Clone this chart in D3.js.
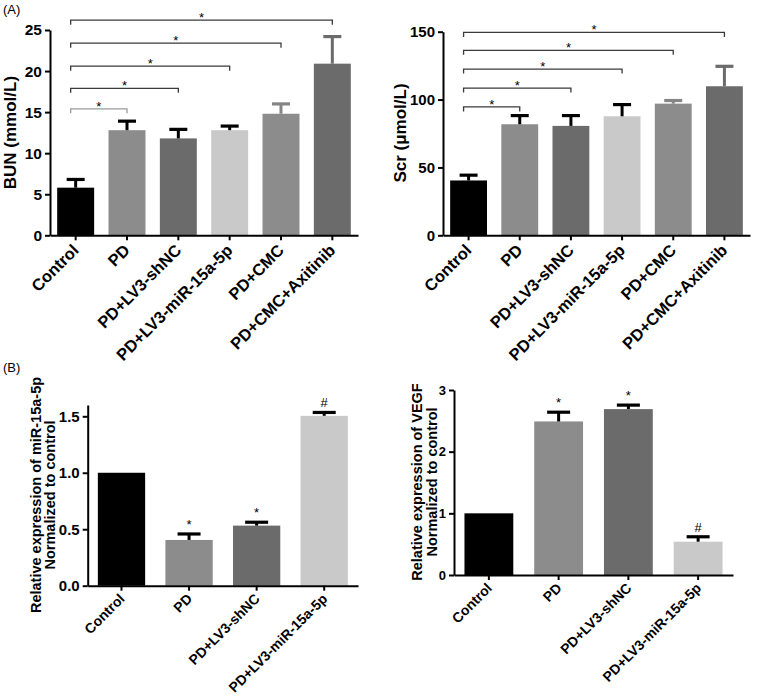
<!DOCTYPE html>
<html>
<head>
<meta charset="utf-8">
<script src="https://cdn.jsdelivr.net/npm/d3@7"></script>
<style>
  html, body { margin: 0; padding: 0; background: #ffffff; }
  svg { display: block; }
  text { font-family: "Liberation Sans", Arial, sans-serif; fill: #000; }
</style>
</head>
<body>
<svg id="chart" width="760" height="696"></svg>
<script>
// ---------------- DATA ----------------
const categoriesA = ["Control", "PD", "PD+LV3-shNC", "PD+LV3-miR-15a-5p", "PD+CMC", "PD+CMC+Axitinib"];
const bunMeans = [5.8, 12.8, 11.8, 12.8, 14.8, 20.9];
const bunErrs  = [1.0, 1.1, 1.1, 0.5, 1.2, 3.3];
const bunTicks = [0, 5, 10, 15, 20, 25];
const bunBracketLevels = [15.4, 17.9, 20.6, 23.4, 26.2];

const scrMeans = [40.4, 81.8, 80.6, 87.7, 97.0, 109.8];
const scrErrs  = [3.9, 6.4, 7.6, 8.6, 2.3, 14.7];
const scrTicks = [0, 50, 100, 150];
const scrBracketLevels = [94.6, 108.5, 122.5, 136.3, 149.5];

const bracketTargets = [1, 2, 3, 4, 5];   // each compared with Control (index 0)
const bracketLabels  = ["*", "*", "*", "*", "*"];

const categoriesB = ["Control", "PD", "PD+LV3-shNC", "PD+LV3-miR-15a-5p"];
const mirMeans = [1.0, 0.405, 0.532, 1.504];
const mirErrs  = [0, 0.053, 0.030, 0.030];
const mirTicks = [0, 0.5, 1.0, 1.5];
const mirMarks = ["", "*", "*", "#"];

const vegfMeans = [1.0, 2.49, 2.69, 0.54];
const vegfErrs  = [0, 0.15, 0.065, 0.08];
const vegfTicks = [0, 1, 2, 3];
const vegfMarks = ["", "*", "*", "#"];

// ---------------- STYLE ----------------
const barColorsA = ["#000000", "#8c8c8c", "#6b6b6b", "#c9c9c9", "#8c8c8c", "#6b6b6b"];
const errColorsA = ["#000000", "#000000", "#000000", "#000000", "#858585", "#6b6b6b"];
const barColorsB = ["#000000", "#8c8c8c", "#6b6b6b", "#c9c9c9"];
const errColorsB = ["#000000", "#000000", "#000000", "#000000"];
const FONT = '"Liberation Sans", Arial, sans-serif';

const svg = d3.select("#chart");

function drawPanel(cfg) {
  const g = svg.append("g");
  const x = d3.scaleBand().domain(cfg.cats).range([cfg.x0, cfg.x1])
    .paddingInner(cfg.pIn).paddingOuter(cfg.pOut);
  const y = d3.scaleLinear().domain([0, cfg.yMax]).range([cfg.yBottom, cfg.yTop]);

  // bars
  g.selectAll("rect.bar").data(cfg.means).enter().append("rect")
    .attr("class", "bar")
    .attr("x", (d, i) => x(cfg.cats[i]))
    .attr("width", x.bandwidth())
    .attr("y", d => y(d))
    .attr("height", d => y(0) - y(d))
    .attr("fill", (d, i) => cfg.colors[i]);

  // error bars (upper only)
  cfg.means.forEach((m, i) => {
    const e = cfg.errs[i];
    if (!e) return;
    const cx = x(cfg.cats[i]) + x.bandwidth() / 2;
    g.append("line").attr("x1", cx).attr("x2", cx)
      .attr("y1", y(m)).attr("y2", y(m + e))
      .attr("stroke", cfg.errColors[i]).attr("stroke-width", 3);
    g.append("line").attr("x1", cx - cfg.capW / 2).attr("x2", cx + cfg.capW / 2)
      .attr("y1", y(m + e)).attr("y2", y(m + e))
      .attr("stroke", cfg.errColors[i]).attr("stroke-width", 3.2);
  });

  // markers above bars
  if (cfg.marks) {
    cfg.marks.forEach((mk, i) => {
      if (!mk) return;
      const cx = x(cfg.cats[i]) + x.bandwidth() / 2;
      g.append("text").attr("x", cx).attr("y", y(cfg.means[i] + cfg.errs[i]) - 5)
        .attr("text-anchor", "middle").style("font-size", "13px").text(mk);
    });
  }

  // significance brackets
  if (cfg.brackets) {
    const left = x(cfg.cats[0]) + x.bandwidth() / 2 - 5;
    cfg.brackets.forEach((lvl, k) => {
      const ti = bracketTargets[k];
      const right = x(cfg.cats[ti]) + x.bandwidth() / 2;
      const yy = y(lvl);
      g.append("path")
        .attr("d", `M${left},${yy + 4.5}V${yy}H${right}V${yy + 4.5}`)
        .attr("fill", "none")
        .attr("stroke", cfg.bracketColors[k])
        .attr("stroke-width", 1.3);
      g.append("text").attr("x", (left + right) / 2).attr("y", yy + 2)
        .attr("text-anchor", "middle").style("font-size", "13px")
        .text(bracketLabels[k]);
    });
  }

  // y axis
  const ya = g.append("g").attr("transform", `translate(${cfg.x0},0)`)
    .call(d3.axisLeft(y).tickValues(cfg.ticks).tickSize(5).tickSizeOuter(0)
      .tickPadding(3).tickFormat(cfg.tickFmt));
  ya.select(".domain").attr("stroke", "#000").attr("stroke-width", 2);
  ya.selectAll(".tick line").attr("stroke", "#000").attr("stroke-width", 2);
  ya.selectAll(".tick text").style("font-size", cfg.tickFont + "px")
    .style("font-weight", "bold").style("font-family", FONT)
    .attr("fill", "#000");

  // x axis
  const xa = g.append("g").attr("transform", `translate(0,${cfg.yBottom})`)
    .call(d3.axisBottom(x).tickSize(5).tickSizeOuter(0));
  xa.select(".domain").attr("stroke", "#000").attr("stroke-width", 2);
  xa.selectAll(".tick line").attr("stroke", "#000").attr("stroke-width", 2);
  xa.selectAll(".tick text")
    .style("font-size", cfg.xFont + "px").style("font-weight", "bold")
    .style("font-family", FONT)
    .attr("fill", "#000")
    .attr("text-anchor", "end")
    .attr("x", null).attr("y", null).attr("dy", null)
    .attr("transform", `translate(${cfg.xlDx},${cfg.xlDy}) rotate(-45)`);

  // y label
  cfg.yLabel.forEach((line, k) => {
    g.append("text")
      .attr("transform", `translate(${cfg.yLabelX[k]},${cfg.yLabelY}) rotate(-90)`)
      .attr("text-anchor", "middle")
      .style("font-size", cfg.yLabelFont + "px").style("font-weight", "bold")
      .text(line);
  });
}

// Panel A left: BUN
drawPanel({
  cats: categoriesA, means: bunMeans, errs: bunErrs,
  colors: barColorsA, errColors: errColorsA,
  x0: 50, x1: 358, yTop: 30, yBottom: 235.3, yMax: 25,
  pIn: 0.28, pOut: 0.14, capW: 18,
  ticks: bunTicks, tickFmt: d3.format("d"), tickFont: 15.5,
  brackets: bunBracketLevels,
  bracketColors: ["#9a9a9a", "#3a3a3a", "#3a3a3a", "#3a3a3a", "#3a3a3a"],
  xFont: 16.5, xlDx: 4, xlDy: 16,
  yLabel: ["BUN (mmol/L)"], yLabelX: [16], yLabelY: 132.6, yLabelFont: 17
});

// Panel A right: Scr
drawPanel({
  cats: categoriesA, means: scrMeans, errs: scrErrs,
  colors: barColorsA, errColors: errColorsA,
  x0: 443, x1: 750, yTop: 31.7, yBottom: 235.3, yMax: 150,
  pIn: 0.28, pOut: 0.14, capW: 18,
  ticks: scrTicks, tickFmt: d3.format("d"), tickFont: 15,
  brackets: scrBracketLevels,
  bracketColors: ["#3a3a3a", "#3a3a3a", "#3a3a3a", "#3a3a3a", "#3a3a3a"],
  xFont: 16.5, xlDx: 4, xlDy: 16,
  yLabel: ["Scr (\u03bcmol/L)"], yLabelX: [406], yLabelY: 133, yLabelFont: 17
});

// Panel B left: miR-15a-5p
drawPanel({
  cats: categoriesB, means: mirMeans, errs: mirErrs,
  colors: barColorsB, errColors: errColorsB, marks: mirMarks,
  x0: 87.7, x1: 358, yTop: 405, yBottom: 585.7, yMax: 1.6,
  pIn: 0.3, pOut: 0.15, capW: 23,
  ticks: mirTicks, tickFmt: d3.format(".1f"), tickFont: 15,
  xFont: 14, xlDx: 4, xlDy: 14,
  yLabel: ["Relative expression of miR-15a-5p", "Normalized to control"],
  yLabelX: [41, 55], yLabelY: 495, yLabelFont: 14.5
});

// Panel B right: VEGF
drawPanel({
  cats: categoriesB, means: vegfMeans, errs: vegfErrs,
  colors: barColorsB, errColors: errColorsB, marks: vegfMarks,
  x0: 454, x1: 733, yTop: 390, yBottom: 575, yMax: 3,
  pIn: 0.3, pOut: 0.15, capW: 23,
  ticks: vegfTicks, tickFmt: d3.format("d"), tickFont: 13,
  xFont: 14, xlDx: 4, xlDy: 14,
  yLabel: ["Relative expression of VEGF", "Normalized to control"],
  yLabelX: [422, 436.5], yLabelY: 482, yLabelFont: 14.5
});

// panel letters
svg.append("text").attr("x", 3).attr("y", 14).style("font-size", "13px").text("(A)");
svg.append("text").attr("x", 3).attr("y", 372).style("font-size", "13px").text("(B)");
</script>
</body>
</html>
